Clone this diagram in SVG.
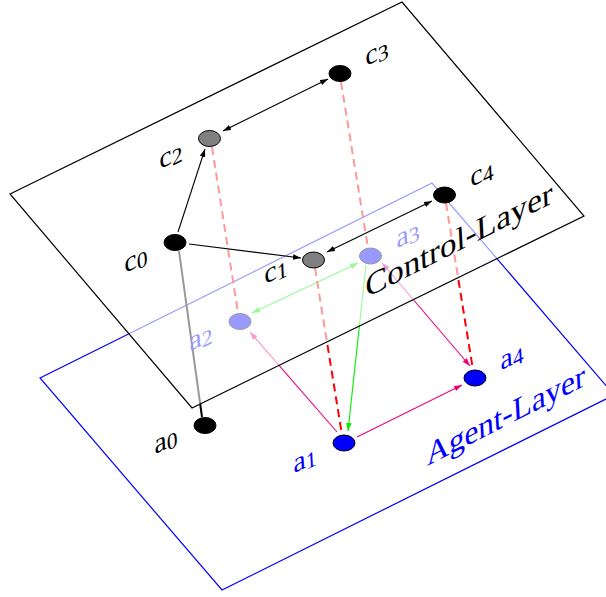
<svg xmlns="http://www.w3.org/2000/svg" width="606" height="597" viewBox="0 0 606 597">
<style>
.lbl{font-family:"Liberation Serif","DejaVu Serif",serif;font-size:31px;text-anchor:middle}
.sub{font-size:24px}
.big{font-family:"Liberation Serif","DejaVu Serif",serif;font-size:35px}
.e{fill:none;stroke-width:1.1}
.blk{stroke:#000}
.grn{stroke:#00ee00}
.mag{stroke:#ee0080}
.red{stroke:#ff0000;stroke-width:2;stroke-dasharray:8 5;fill:none}
.nd{stroke:#000;stroke-width:1}
</style>
<defs>
<marker id="mb" viewBox="0 0 10 7" refX="10" refY="3.5" markerWidth="8" markerHeight="5.6" markerUnits="userSpaceOnUse" orient="auto-start-reverse"><path d="M0,0 L10,3.5 L0,7 z" fill="#000"/></marker>
<marker id="mg" viewBox="0 0 10 7" refX="10" refY="3.5" markerWidth="8" markerHeight="5.6" markerUnits="userSpaceOnUse" orient="auto-start-reverse"><path d="M0,0 L10,3.5 L0,7 z" fill="#00ee00"/></marker>
<marker id="mm" viewBox="0 0 10 7" refX="10" refY="3.5" markerWidth="8" markerHeight="5.6" markerUnits="userSpaceOnUse" orient="auto-start-reverse"><path d="M0,0 L10,3.5 L0,7 z" fill="#ee0080"/></marker>
</defs>
<rect width="606" height="597" fill="#fff"/>
<g id="agent-layer">
<polygon points="40,378 432,183 614,395 222,590" fill="#fff" stroke="#0000ff" stroke-width="1.2"/>
<text class="big" fill="#0000ff" transform="matrix(0.891,-0.454,0.05,0.92,427,466)" textLength="178" lengthAdjust="spacingAndGlyphs">Agent-Layer</text>
</g>
<g id="agent-connectors">
<line class="e grn" x1="366" y1="265" x2="348" y2="431" marker-end="url(#mg)"/>
<line class="e grn" x1="252" y1="313" x2="358" y2="263" marker-start="url(#mg)" marker-end="url(#mg)"/>
<line class="e mag" x1="337" y1="432" x2="250" y2="332" marker-end="url(#mm)"/>
<line class="e mag" x1="357" y1="437" x2="462" y2="385" marker-end="url(#mm)"/>
<line class="e mag" x1="382" y1="263" x2="470" y2="366" marker-start="url(#mm)" marker-end="url(#mm)"/>
<line x1="179" y1="251" x2="202" y2="417" stroke="#000" stroke-width="2"/>
<line class="red" x1="212" y1="147" x2="238" y2="313"/>
<line class="red" x1="341" y1="82" x2="368" y2="248"/>
<line class="red" x1="315" y1="268" x2="342" y2="435"/>
<line class="red" x1="446" y1="203" x2="473" y2="370"/>
</g>
<g id="a0"><ellipse class="nd" cx="205" cy="425.5" rx="11" ry="8" fill="#000"/><text class="lbl" fill="#000" transform="matrix(0.891,-0.454,0.05,0.92,166,443)" y="6">a<tspan class="sub" dy="3">0</tspan></text></g>
<g id="a1"><ellipse class="nd" cx="344" cy="443" rx="11" ry="8" fill="#0000ff"/><text class="lbl" fill="#0000ff" transform="matrix(0.891,-0.454,0.05,0.92,305,462)" y="6">a<tspan class="sub" dy="3">1</tspan></text></g>
<g id="a2"><ellipse class="nd" cx="240" cy="321.5" rx="11" ry="8" fill="#0000ff"/><text class="lbl" fill="#0000ff" transform="matrix(0.891,-0.454,0.05,0.92,201,340)" y="6">a<tspan class="sub" dy="3">2</tspan></text></g>
<g id="a3"><ellipse class="nd" cx="370.5" cy="256" rx="11" ry="8" fill="#0000ff"/><text class="lbl" fill="#0000ff" transform="matrix(0.891,-0.454,0.05,0.92,408,237)" y="6">a<tspan class="sub" dy="3">3</tspan></text></g>
<g id="a4"><ellipse class="nd" cx="475" cy="378" rx="11" ry="8" fill="#0000ff"/><text class="lbl" fill="#0000ff" transform="matrix(0.891,-0.454,0.05,0.92,512,359)" y="6">a<tspan class="sub" dy="3">4</tspan></text></g>
<g id="control-layer">
<polygon points="10,194 402,2 584,216 192,408" fill="#fff" fill-opacity="0.6" stroke="#000" stroke-width="1.2"/>
<text class="big" fill="#000" transform="matrix(0.891,-0.454,0.05,0.92,366,298)" textLength="210" lengthAdjust="spacingAndGlyphs">Control-Layer</text>
</g>
<g id="control-connectors">
<line class="e blk" x1="178" y1="232" x2="205" y2="149" marker-end="url(#mb)"/>
<line class="e blk" x1="189" y1="244" x2="301" y2="258" marker-end="url(#mb)"/>
<line class="e blk" x1="223" y1="131" x2="328" y2="79" marker-start="url(#mb)" marker-end="url(#mb)"/>
<line class="e blk" x1="327" y1="252" x2="432" y2="201" marker-start="url(#mb)" marker-end="url(#mb)"/>
</g>
<g id="c0"><ellipse class="nd" cx="175" cy="242.5" rx="11" ry="8" fill="#000"/><text class="lbl" fill="#000" transform="matrix(0.891,-0.454,0.05,0.92,136,262)" y="6">c<tspan class="sub" dy="3">0</tspan></text></g>
<g id="c1"><ellipse class="nd" cx="313.5" cy="260" rx="11" ry="8" fill="#808080"/><text class="lbl" fill="#000" transform="matrix(0.891,-0.454,0.05,0.92,276,273)" y="6">c<tspan class="sub" dy="3">1</tspan></text></g>
<g id="c2"><ellipse class="nd" cx="209.5" cy="138.5" rx="11" ry="8" fill="#808080"/><text class="lbl" fill="#000" transform="matrix(0.891,-0.454,0.05,0.92,171,158)" y="6">c<tspan class="sub" dy="3">2</tspan></text></g>
<g id="c3"><ellipse class="nd" cx="340" cy="73.5" rx="11" ry="8" fill="#000"/><text class="lbl" fill="#000" transform="matrix(0.891,-0.454,0.05,0.92,377,55)" y="6">c<tspan class="sub" dy="3">3</tspan></text></g>
<g id="c4"><ellipse class="nd" cx="444.5" cy="195" rx="11" ry="8" fill="#000"/><text class="lbl" fill="#000" transform="matrix(0.891,-0.454,0.05,0.92,482,176)" y="6">c<tspan class="sub" dy="3">4</tspan></text></g>
</svg>
